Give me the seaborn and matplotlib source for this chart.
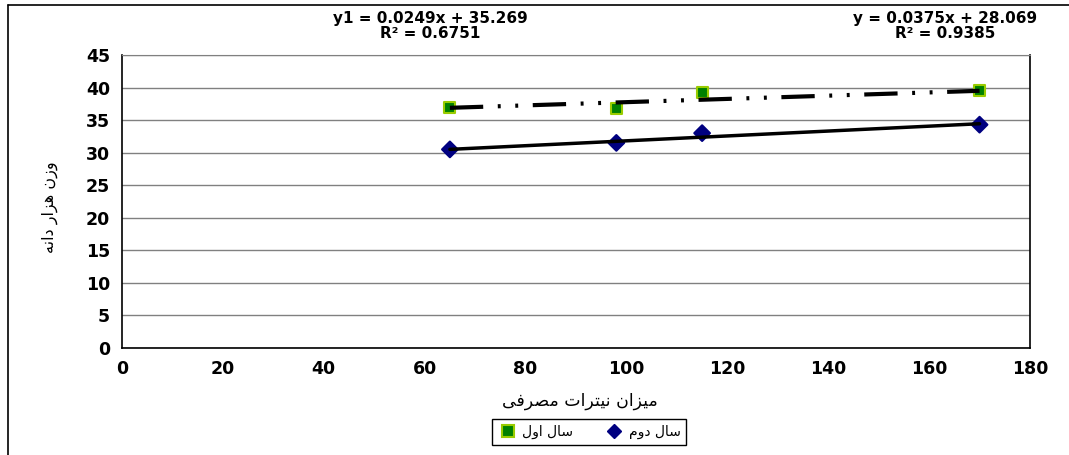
import matplotlib
matplotlib.use("Agg")
import matplotlib.pyplot as plt
from matplotlib.lines import Line2D
import numpy as np
import pandas as pd
import seaborn as sns

# data
nitrate = [65, 98, 115, 170]
year1_weight = [37.0, 36.8, 39.3, 39.5]
year2_weight = [30.5, 31.5, 33.0, 34.3]
year1_fit = [0.0249, 35.269]
year2_fit = [0.0375, 28.069]
year1_r2 = 0.6751
year2_r2 = 0.9385

year1_label = "سال اول"
year2_label = "سال دوم"
x_label = "میزان نیترات مصرفی"
y_label = "وزن هزار دانه"

x_ticks = list(range(0, 181, 20))
y_ticks = list(range(0, 46, 5))

# arabic presentation forms: isolated, final, initial, medial
FORMS = {
    "ا": ("\uFE8D", "\uFE8E", None, None),
    "د": ("\uFEA9", "\uFEAA", None, None),
    "ر": ("\uFEAD", "\uFEAE", None, None),
    "ز": ("\uFEAF", "\uFEB0", None, None),
    "و": ("\uFEED", "\uFEEE", None, None),
    "ت": ("\uFE95", "\uFE96", "\uFE97", "\uFE98"),
    "س": ("\uFEB1", "\uFEB2", "\uFEB3", "\uFEB4"),
    "ص": ("\uFEB9", "\uFEBA", "\uFEBB", "\uFEBC"),
    "ف": ("\uFED1", "\uFED2", "\uFED3", "\uFED4"),
    "ل": ("\uFEDD", "\uFEDE", "\uFEDF", "\uFEE0"),
    "م": ("\uFEE1", "\uFEE2", "\uFEE3", "\uFEE4"),
    "ن": ("\uFEE5", "\uFEE6", "\uFEE7", "\uFEE8"),
    "ه": ("\uFEE9", "\uFEEA", "\uFEEB", "\uFEEC"),
    "ی": ("\uFEEF", "\uFEF0", "\uFEF3", "\uFEF4"),
}


def shape(text):
    """Join persian letters and put them in visual (left to right) order."""
    out = []
    for i, c in enumerate(text):
        if c not in FORMS:
            out.append(c)
            continue
        f = FORMS[c]
        prev = text[i - 1] if i > 0 else None
        nxt = text[i + 1] if i + 1 < len(text) else None
        join_prev = prev in FORMS and FORMS[prev][2] is not None
        join_next = f[2] is not None and nxt in FORMS
        if join_prev and join_next:
            out.append(f[3])
        elif join_prev:
            out.append(f[1])
        elif join_next:
            out.append(f[2])
        else:
            out.append(f[0])
    return "".join(reversed(out))


sns.set_style("white")
plt.rcParams["font.family"] = ["DejaVu Sans"]
plt.rcParams["text.color"] = "black"
plt.rcParams["axes.labelcolor"] = "black"
plt.rcParams["xtick.color"] = "black"
plt.rcParams["ytick.color"] = "black"

df = pd.DataFrame({
    "nitrate": nitrate * 2,
    "weight": year1_weight + year2_weight,
    "year": [shape(year1_label)] * len(nitrate) + [shape(year2_label)] * len(nitrate),
})

fig = plt.figure(figsize=(10.69, 4.55), dpi=100)
ax = fig.add_axes([122 / 1069, 107 / 455, 908 / 1069, 293 / 455])

# trendlines
xs = np.array([min(nitrate), max(nitrate)])
ax.plot(xs, np.polyval(year1_fit, xs), color="black", lw=3,
        dashes=(8, 3.5, 0.7, 3.5, 0.7, 3.5), zorder=3)
ax.plot(xs, np.polyval(year2_fit, xs), color="black", lw=2.5, zorder=3)

sns.scatterplot(
    data=df, x="nitrate", y="weight", hue="year", style="year",
    palette=["#008000", "#000080"], markers=["s", "D"], s=64,
    edgecolor=["#99CC00"] * len(nitrate) + ["#000080"] * len(nitrate),
    linewidth=1.5, ax=ax, zorder=2, legend=False,
)

ax.set_xlim(0, 180)
ax.set_ylim(0, 45)
ax.set_xticks(x_ticks)
ax.set_yticks(y_ticks)
ax.tick_params(axis="both", direction="out", length=5, width=1, color="black",
               labelsize=12.5, labelcolor="black")
for lab in ax.get_xticklabels() + ax.get_yticklabels():
    lab.set_fontweight("bold")
ax.grid(axis="y", color="#808080", lw=1)
ax.set_axisbelow(True)
for side in ["left", "bottom", "right"]:
    ax.spines[side].set_color("black")
    ax.spines[side].set_linewidth(1.2)
ax.spines["top"].set_color("#808080")

ax.set_xlabel(shape(x_label), fontsize=12.5)
ax.set_ylabel(shape(y_label), fontsize=11.5)
ax.xaxis.set_label_coords((580 - 122) / 908, -0.15)
ax.yaxis.set_label_coords(-(122 - 58) / 908, 0.48)

# equations of the trendlines
eq_style = dict(ha="center", va="center", fontsize=11, fontweight="bold")
fig.text(430 / 1069, 1 - 19 / 455, f"y1 = {year1_fit[0]}x + {year1_fit[1]}", **eq_style)
fig.text(430 / 1069, 1 - 34 / 455, f"R² = {year1_r2}", **eq_style)
fig.text(945 / 1069, 1 - 19 / 455, f"y = {year2_fit[0]}x + {year2_fit[1]}", **eq_style)
fig.text(945 / 1069, 1 - 34 / 455, f"R² = {year2_r2}", **eq_style)

# legend
handles = [
    Line2D([], [], ls="none", marker="s", ms=8, mfc="#008000", mec="#99CC00", mew=1.5),
    Line2D([], [], ls="none", marker="D", ms=7, mfc="#000080", mec="#000080"),
]
leg = fig.legend(handles, [shape(year1_label), shape(year2_label)],
                 loc="center", bbox_to_anchor=(589 / 1069, 1 - 432 / 455),
                 ncol=2, fancybox=False, edgecolor="black", framealpha=1,
                 prop={"size": 10},
                 handletextpad=0.3, columnspacing=2.2, borderpad=0.4,
                 handlelength=1.5)
leg.get_frame().set_linewidth(1)

# outer chart frame
fig.add_artist(Line2D([8 / 1069, 8 / 1069], [0, 1 - 5 / 455], color="black", lw=1.2))
fig.add_artist(Line2D([8 / 1069, 1], [1 - 5 / 455, 1 - 5 / 455], color="black", lw=1.2))

fig.savefig("out.png", dpi=100)
